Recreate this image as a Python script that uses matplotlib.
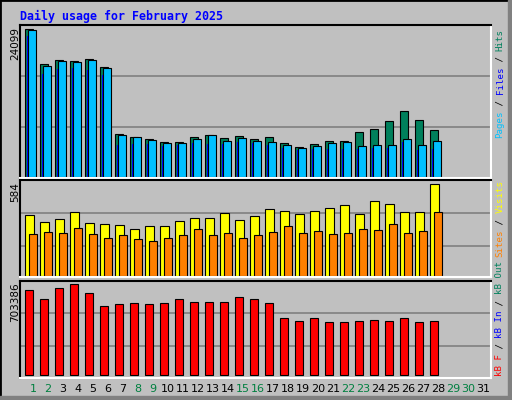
import matplotlib
matplotlib.use("Agg")
import matplotlib.pyplot as plt
from matplotlib.patches import Rectangle

days = list(range(1, 32))
hits = [24099,18377,19031,18868,19195,17887,6932,6491,6115,5624,5624,6491,6769,6278,6605,6115,
        6491,5461,4856,5297,5788,5837,7259,7750,9058,10693,9221,7586]
pages = [23936,18050,18868,18704,19031,17723,6769,6491,5951,5461,5461,6115,6769,5788,6278,5788,
         5624,5134,4643,4970,5461,5624,4970,5134,5134,6115,5134,5788]
files = [22955,16742,17560,17723,17396,16579,5134,5297,5297,4970,5134,5461,5297,5297,5624,5461,
         5134,4643,4316,4480,4480,4480,4480,4643,4643,5624,4316,4480]
visits = [387,343,362,406,336,330,324,298,317,317,349,368,368,400,355,381,
          425,413,394,413,432,451,394,476,457,406,406,584]
sites = [267,279,273,305,267,241,260,235,222,241,260,298,260,273,241,260,
         279,317,273,286,267,273,298,292,330,273,286,406]
kbytes = [657000,587000,672000,703386,634000,533000,549000,557000,549000,557000,587000,564000,564000,564000,
          603000,587000,557000,441000,417000,441000,410000,410000,417000,425000,417000,441000,410000,417000]
weekend = [1,2,8,9,15,16,22,23,29,30]

W, H = 512, 400
BG = "#c0c0c0"
fig = plt.figure(figsize=(5.12, 4.0), dpi=100, facecolor=BG)

def px_axes(x0, y0, x1, y1):
    return fig.add_axes([x0 / W, 1 - y1 / H, (x1 - x0) / W, (y1 - y0) / H])

def frac(x, y):
    return x / W, 1 - y / H

# frame bevel
fig.patches.append(Rectangle((0, 0), 1, 1, transform=fig.transFigure, fill=False, ec="black", lw=2))
fig.patches.append(Rectangle((1 - 4 / W, 0), 4 / W, 1, transform=fig.transFigure, color="#808080"))
fig.patches.append(Rectangle((0, 0), 1, 4 / H, transform=fig.transFigure, color="#808080"))

xl = (0.133, 31.53)

def style(ax, ylim, grid):
    ax.set_facecolor(BG)
    ax.set_xlim(*xl)
    ax.set_ylim(*ylim)
    for g in grid:
        ax.axhline(g, color="#808080", lw=1.2, zorder=0)
    ax.set_yticks([])
    for s in ("top", "left"):
        ax.spines[s].set_color("black")
    for s in ("bottom", "right"):
        ax.spines[s].set_color("white")
    for s in ax.spines.values():
        s.set_linewidth(1.5)

d = days[:28]
bw = dict(edgecolor="black", linewidth=0.8, align="edge")

ax1 = px_axes(20, 25, 491, 178)
style(ax1, (-213, 24803), [16464, 8126])
ax1.bar([x - 0.53 for x in d], hits, width=0.53, color="#00805c", **bw)
ax1.bar([x - 0.4 for x in d], files, width=0.17, color="#0000ff", align="edge", linewidth=0)
ax1.bar([x - 0.36 for x in d], pages, width=0.58, color="#00c0ff", **bw)
ax1.set_xticks([])

ax2 = px_axes(20, 180, 491, 277)
style(ax2, (-4.4, 611), [400, 190])
ax2.bar([x - 0.51 for x in d], visits, width=0.56, color="#ffff00", **bw)
ax2.bar([x - 0.27 for x in d], sites, width=0.51, color="#ff8000", **bw)
ax2.set_xticks([])

ax3 = px_axes(20, 281, 491, 378)
style(ax3, (-20870, 728900), [479229, 224155])
ax3.bar([x - 0.51 for x in d], kbytes, width=0.49, color="#ff0000", **bw)
ax3.set_xticks(days)
ax3.set_xticklabels([str(x) for x in days], fontsize=8, family="DejaVu Sans")
ax3.tick_params(axis="x", length=0, pad=4)
for lab, x in zip(ax3.get_xticklabels(), days):
    lab.set_color("#008040" if x in weekend else "black")

fig.text(*frac(20, 16), "Daily usage for February 2025", color="#0000ff", fontsize=8.4,
         family="DejaVu Sans Mono", fontweight="bold", va="center", ha="left")

for ytop, lab in [(27, "24099"), (182, "584"), (282, "703386")]:
    fig.text(*frac(15, ytop), lab, rotation=90, va="top", ha="center", fontsize=7.5, family="DejaVu Sans")

CH = 5.45
def vlabel(ybottom, pieces):
    y = ybottom
    for txt, col in pieces:
        fig.text(*frac(500, y), txt, rotation=90, va="bottom", ha="center", color=col,
                 fontsize=6.6, family="DejaVu Sans Mono")
        y -= len(txt) * CH

vlabel(138, [("Pages", "#00c0ff"), (" / ", "black"), ("Files", "#0000ff"), (" / ", "black"), ("Hits", "#00805c")])
vlabel(257, [("Sites", "#ff8000"), (" / ", "black"), ("Visits", "#ffff00")])
vlabel(376, [("kB F", "#ff0000"), (" / ", "black"), ("kB In", "#0000ff"), (" / ", "black"), ("kB Out", "#00805c")])

fig.savefig("out.png", dpi=100, facecolor=BG)
